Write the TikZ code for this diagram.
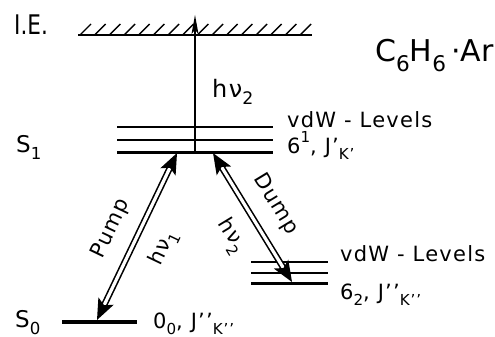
\documentclass[tikz,border=0pt]{standalone}
\usepackage{fontspec}
\setmainfont{DejaVu Sans}
\newfontfamily\lblfont[LetterSpace=6]{DejaVu Sans}
\usetikzlibrary{calc}
\newcommand{\lsub}[1]{\raisebox{-0.32em}{\scalebox{0.72}{#1}}}
\newcommand{\lsup}[1]{\raisebox{0.5em}{\scalebox{0.72}{#1}}}
\newcommand{\tipat}[4]{% tip, from, length, halfwidth
  \fill ($(#1)$) -- ($(#1)!#3!(#2)!#4!90:(#1)$) -- ($(#1)!0.78*#3!(#2)$) -- ($(#1)!#3!(#2)!#4!-90:(#1)$) -- cycle;}
\tikzset{
  lbl/.style={inner sep=0pt, anchor=base west, font=\lblfont\fontsize{21}{21}\selectfont},
  rlbl/.style={inner sep=0pt, font=\lblfont\fontsize{21}{21}\selectfont},
  thinlev/.style={line width=1.4pt},
  thicklev/.style={line width=3pt},
  shaft/.style={double, line width=1.6pt, double distance=3.2pt, shorten <=12pt, shorten >=12pt},
}
\begin{document}
\begin{tikzpicture}[x=1pt,y=-1pt]
\useasboundingbox (0,0) rectangle (495,337);
\clip (0,0) rectangle (495,337);
% ionization energy line
\coordinate (ieL) at (78,35);
\coordinate (ieR) at (312,35);
\draw[line width=1.8pt] (ieL) -- (ieR);
\foreach \i in {0,...,15} {
  \draw[line width=1.4pt] ($(80,35)+(\i*14.67,0)$) -- ++(11,-11);
}
\node[lbl, font=\fontsize{27}{27}\selectfont] (ie) at (14,35) {\scalebox{0.8}[1]{I.E.}};
\node[lbl, font=\fontsize{30}{30}\selectfont] (mol) at (375,62) {C\lsub{6}H\lsub{6}\,·Ar};
% S1 levels
\coordinate (s1aL) at (117,127); \coordinate (s1aR) at (273,127);
\coordinate (s1bL) at (117,140); \coordinate (s1bR) at (273,140);
\coordinate (s1cL) at (117,152); \coordinate (s1cR) at (273,152);
\draw[thinlev] (s1aL) -- (s1aR);
\draw[thinlev] (s1bL) -- (s1bR);
\draw[thicklev] (s1cL) -- (s1cR);
% lower vdW levels
\coordinate (l1L) at (251,262); \coordinate (l1R) at (328,262);
\coordinate (l2L) at (251,273); \coordinate (l2R) at (328,273);
\coordinate (l3L) at (251,283); \coordinate (l3R) at (328,283);
\draw[thinlev] (l1L) -- (l1R);
\draw[thinlev] (l2L) -- (l2R);
\draw[thicklev] (l3L) -- (l3R);
% S0 level
\coordinate (s0L) at (62,322); \coordinate (s0R) at (137,322);
\draw[line width=4.5pt] (s0L) -- (s0R);
% ionizing transition
\coordinate (vb) at (195,152);
\coordinate (vt) at (195,15);
\draw[line width=1.8pt] (vb) -- ($(vt)+(0,8)$);
\tipat{vt}{vb}{19pt}{3.5pt}
% pump arrow
\coordinate (pA) at (97,320);
\coordinate (pB) at (177,153);
\draw[shaft] (pA) -- (pB);
\tipat{pA}{pB}{21pt}{8.5pt}
\tipat{pB}{pA}{21pt}{8.5pt}
% dump arrow
\coordinate (dA) at (213,153);
\coordinate (dB) at (292,282);
\draw[shaft] (dA) -- (dB);
\tipat{dA}{dB}{21pt}{8.5pt}
\tipat{dB}{dA}{21pt}{8.5pt}
% labels
\node[lbl, font=\lblfont\fontsize{24}{24}\selectfont] (hv2a) at (212,97) {hν\lsub{2}};
\node[lbl, font=\lblfont\fontsize{23}{23}\selectfont] (s1) at (16,152) {S\lsub{1}};
\node[lbl, font=\lblfont\fontsize{23}{23}\selectfont] (s0) at (15,327) {S\lsub{0}};
\node[lbl] (vdw1) at (287,127) {vdW - Levels};
\node[lbl] (st1) at (287,153) {6\lsup{1}, J’\lsub{K’}};
\node[lbl] (vdw2) at (340,261) {vdW - Levels};
\node[lbl] (st2) at (340,299) {6\lsub{2}, J’’\lsub{K’’}};
\node[lbl] (st0) at (153,328) {0\lsub{0}, J’’\lsub{K’’}};
\node[rlbl, rotate=64.5] (pump) at (111,229) {Pump};
\node[rlbl, rotate=64.5] (hv1) at (164,248) {hν\lsub{1}};
\node[rlbl, rotate=-58.7] (dump) at (276,204) {Dump};
\node[rlbl, rotate=-58.7] (hv2b) at (231,236) {hν\lsub{2}};
\end{tikzpicture}
\end{document}
